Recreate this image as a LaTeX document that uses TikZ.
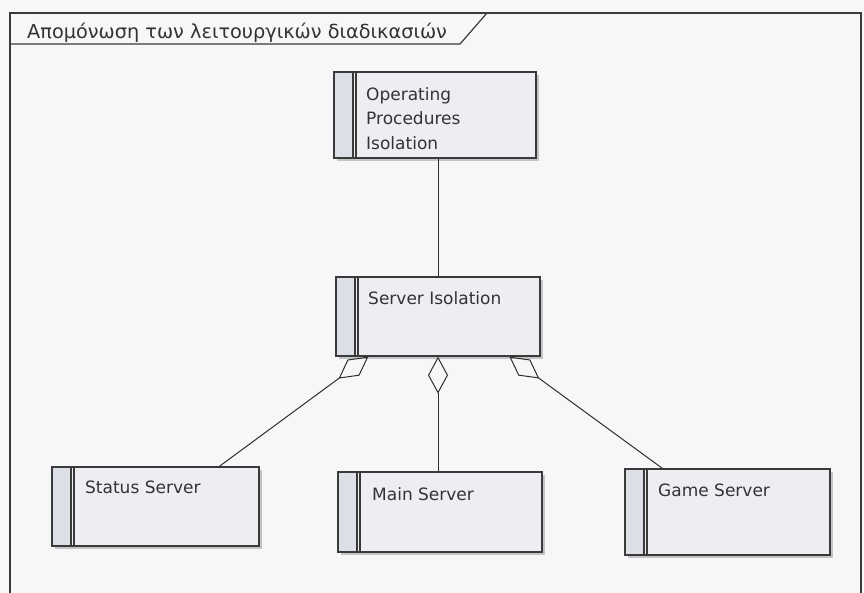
\documentclass[tikz,border=0pt]{standalone}
\usepackage{fontspec}
\setmainfont{DejaVu Sans}
\usetikzlibrary{arrows.meta,shadows}
\definecolor{bg}{HTML}{F6F7F9}
\definecolor{boxfill}{HTML}{ECEEF2}
\definecolor{stripefill}{HTML}{DCDFE5}
\definecolor{boxline}{HTML}{3A3A3A}
\definecolor{txt}{HTML}{333333}
\definecolor{connline}{HTML}{2E2E2E}
\begin{document}
\begin{tikzpicture}[x=1pt,y=-1pt,
  umlbox/.style={draw=boxline, line width=1.3pt, fill=boxfill, inner sep=0pt,
    drop shadow={shadow xshift=3pt, shadow yshift=-3pt, fill=black!60, opacity=0.35},
    path picture={
      \fill[stripefill] (path picture bounding box.north west) rectangle ([xshift=19pt]path picture bounding box.south west);
      \draw[boxline, line width=1.1pt] ([xshift=19pt]path picture bounding box.north west) -- ([xshift=19pt]path picture bounding box.south west);
      \draw[boxline, line width=1.1pt] ([xshift=22pt]path picture bounding box.north west) -- ([xshift=22pt]path picture bounding box.south west);}},
  boxtext/.style={anchor=north west, inner sep=0pt, text=txt, font=\fontsize{17}{24.5}\selectfont, align=left},
  conn/.style={draw=connline, line width=1pt},
  agg/.style={conn, {Diamond[open, length=37pt, width=20pt, line width=1pt]}-},
  frameline/.style={draw=boxline, line width=1.2pt}
]
\useasboundingbox (0,0) rectangle (864,593);
\fill[bg] (0,0) rectangle (864,593);
% frame
\draw[frameline] (10,600) -- (10,13) -- (861,13) -- (861,600);
\draw[frameline] (10,44) -- (460,44) -- (487,13);
\node[anchor=north west, inner sep=0pt, text=txt, font=\fontsize{19.3}{22}\selectfont] (title) at (27,23) {Απομόνωση των λειτουργικών διαδικασιών};
% boxes
\node[umlbox, minimum width=202pt, minimum height=86pt] (op) at (435,115) {};
\node[umlbox, minimum width=204pt, minimum height=79pt] (si) at (438,316.5) {};
\node[umlbox, minimum width=207pt, minimum height=79pt] (st) at (155.5,506.5) {};
\node[umlbox, minimum width=204pt, minimum height=80pt] (ms) at (440,512) {};
\node[umlbox, minimum width=205pt, minimum height=86pt] (gs) at (727.5,512) {};
% texts
\node[boxtext] (opt) at (366,87) {Operating\\Procedures\\Isolation};
\node[boxtext] (sit) at (368,291) {Server Isolation};
\node[boxtext] (stt) at (85,481) {Status Server};
\node[boxtext] (mst) at (372,487) {Main Server};
\node[boxtext] (gst) at (658,484) {Game Server};
% connectors
\draw[conn] (op.south -| si.north) -- (si.north);
\coordinate (aL) at ([xshift=33pt]si.south west);
\coordinate (aR) at ([xshift=174pt]si.south west);
\coordinate (eL) at ([xshift=168pt]st.north west);
\coordinate (eR) at ([xshift=38pt]gs.north west);
\draw[agg] (aL) -- (eL);
\draw[agg] (si.south) -- (si.south |- ms.north);
\draw[agg] (aR) -- (eR);
\end{tikzpicture}
\end{document}
